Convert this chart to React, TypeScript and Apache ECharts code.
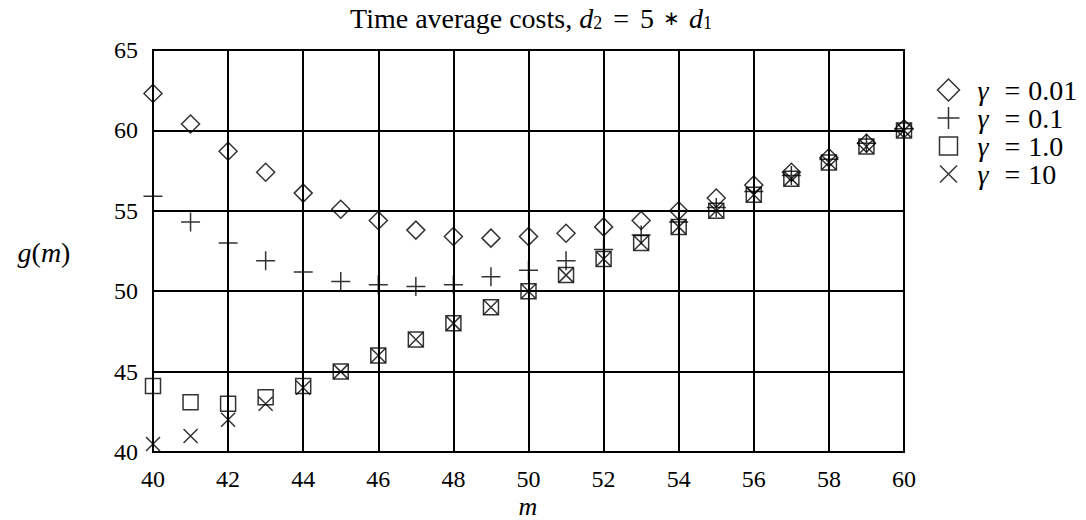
import React, { useEffect, useRef } from "react";
import * as echarts from "echarts";

const mValues = [40, 41, 42, 43, 44, 45, 46, 47, 48, 49, 50, 51, 52, 53, 54, 55, 56, 57, 58, 59, 60];
const gamma001 = [62.3, 60.4, 58.7, 57.4, 56.1, 55.1, 54.4, 53.8, 53.4, 53.3, 53.4, 53.6, 54.0, 54.4, 55.0, 55.8, 56.6, 57.4, 58.3, 59.2, 60.1];
const gamma01 = [55.9, 54.3, 53.0, 51.9, 51.2, 50.6, 50.4, 50.3, 50.4, 50.9, 51.3, 51.9, 52.6, 53.5, 54.3, 55.2, 56.2, 57.2, 58.2, 59.2, 60.1];
const gamma1 = [44.1, 43.1, 43.0, 43.4, 44.1, 45.0, 46.0, 47.0, 48.0, 49.0, 50.0, 51.0, 52.0, 53.0, 54.0, 55.0, 56.0, 57.0, 58.0, 59.0, 60.0];
const gamma10 = [40.5, 41.0, 42.0, 43.0, 44.0, 45.0, 46.0, 47.0, 48.0, 49.0, 50.0, 51.0, 52.0, 53.0, 54.0, 55.0, 56.0, 57.0, 58.0, 59.0, 60.0];
const seriesNames = ["γ = 0.01", "γ = 0.1", "γ = 1.0", "γ = 10"];
const seriesLabels = ["0.01", "0.1", "1.0", "10"];

const FONT = "Liberation Serif";

const PLUS = "path://M0,9L18,9M9,0L9,18";
const CROSS = "path://M0,0L14,14M14,0L0,14";
const LEG_DIAMOND = "path://M11,0L22,11L11,22L0,11Z";
const LEG_PLUS = "path://M0,11L22,11M11,0L11,22";
const LEG_SQUARE = "path://M0,0M2,2L20,2L20,20L2,20ZM22,22";
const LEG_CROSS = "path://M0,0M2.5,2.5L19.5,19.5M19.5,2.5L2.5,19.5M22,22";

export default function App() {
  const ref = useRef<HTMLDivElement>(null);
  useEffect(() => {
    if (!ref.current) return;
    const chart = echarts.init(ref.current, null, { renderer: "svg" });
    const datas = [gamma001, gamma01, gamma1, gamma10];
    const symbols = ["diamond", PLUS, "rect", CROSS];
    const sizes = [18, 19, 15, 14];
    const legendIcons = [LEG_DIAMOND, LEG_PLUS, LEG_SQUARE, LEG_CROSS];
    const itemStyle = { color: "none", borderColor: "#000", borderWidth: 1.5 };
    chart.setOption({
      animation: false,
      backgroundColor: "#fff",
      legend: {
        orient: "vertical",
        left: 935,
        top: 76,
        padding: 0,
        itemWidth: 22,
        itemHeight: 22,
        itemGap: 0,
        itemStyle: { color: "none", borderColor: "#000", borderWidth: 1.5 },
        data: seriesNames.map((n, i) => ({ name: n, icon: legendIcons[i] })),
        formatter: (name: string) => {
          const idx = seriesNames.indexOf(name);
          return "{g|γ}{e|=}{v|" + seriesLabels[idx] + "}";
        },
        textStyle: {
          fontFamily: FONT,
          fontSize: 28,
          color: "#000",
          rich: {
            g: { fontFamily: FONT, fontStyle: "italic", fontSize: 28, color: "#000", padding: [0, 0, 0, 13] },
            e: { fontFamily: FONT, fontSize: 28, color: "#000", padding: [0, 8, 0, 16] },
            v: { fontFamily: FONT, fontSize: 28, color: "#000" },
          },
        },
      },
      grid: {
        left: 153,
        right: 182,
        top: 50,
        bottom: 68,
        show: true,
        borderColor: "#000",
        borderWidth: 2,
        backgroundColor: "transparent",
      },
      xAxis: {
        type: "value",
        min: 40,
        max: 60,
        interval: 2,
        axisLine: { show: true, lineStyle: { color: "#000", width: 2 } },
        axisTick: { show: false },
        splitLine: { show: true, lineStyle: { color: "#000", width: 2 } },
        axisLabel: { color: "#000", fontFamily: FONT, fontSize: 24, lineHeight: 20, margin: 17 },
      },
      yAxis: {
        type: "value",
        min: 40,
        max: 65,
        interval: 5,
        axisLine: { show: true, lineStyle: { color: "#000", width: 2 } },
        axisTick: { show: false },
        splitLine: { show: true, lineStyle: { color: "#000", width: 2 } },
        axisLabel: { color: "#000", fontFamily: FONT, fontSize: 24, margin: 15 },
      },
      graphic: [
        {
          type: "text",
          x: 531,
          y: 18,
          style: {
            text: "Time average costs, {i|d}{s|2} {e|=} 5 {a|∗} {i|d}{s|1}",
            font: "28px " + FONT,
            fill: "#000",
            textAlign: "center",
            textVerticalAlign: "middle",
            rich: {
              i: { fontFamily: FONT, fontStyle: "italic", fontSize: 28, fill: "#000" },
              e: { fontFamily: FONT, fontSize: 28, fill: "#000", padding: [0, 4, 0, 4] },
              a: { fontFamily: FONT, fontSize: 20, fill: "#000", padding: [0, 2, 0, 2] },
              s: { fontFamily: FONT, fontSize: 18, fill: "#000", verticalAlign: "bottom", lineHeight: 16, padding: [12, 0, 0, 0] },
            },
          },
        },
        {
          type: "text",
          x: 44,
          y: 252,
          style: {
            text: "{i|g}({i|m})",
            font: "28px " + FONT,
            fill: "#000",
            textAlign: "center",
            textVerticalAlign: "middle",
            rich: {
              i: { fontFamily: FONT, fontStyle: "italic", fontSize: 28, fill: "#000" },
            },
          },
        },
        {
          type: "text",
          x: 528,
          y: 506,
          style: {
            text: "{i|m}",
            font: "italic 26px " + FONT,
            fill: "#000",
            textAlign: "center",
            textVerticalAlign: "middle",
            rich: {
              i: { fontFamily: FONT, fontStyle: "italic", fontSize: 26, lineHeight: 18, fill: "#000" },
            },
          },
        },
      ],
      series: datas.map((d, i) => ({
        name: seriesNames[i],
        type: "scatter",
        clip: false,
        symbol: symbols[i],
        symbolSize: sizes[i],
        itemStyle,
        emphasis: { disabled: true },
        data: mValues.map((m, j) => [m, d[j]]),
      })),
    });
    return () => chart.dispose();
  }, []);
  return <div ref={ref} style={{ position: "absolute", left: 0, top: 0, width: 1086, height: 520 }} />;
}
